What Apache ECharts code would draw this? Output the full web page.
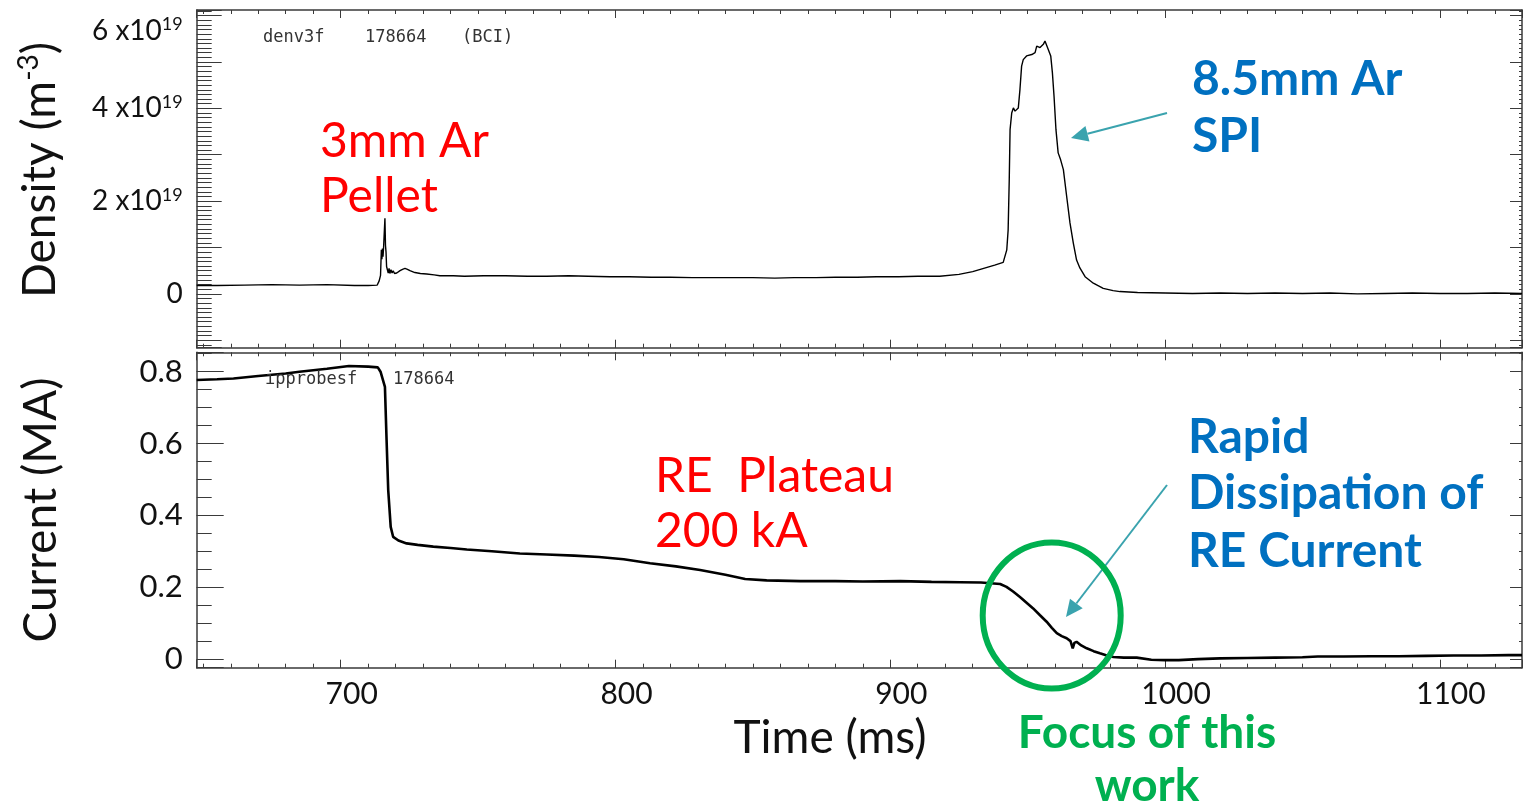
<!DOCTYPE html>
<html>
<head>
<meta charset="utf-8">
<script src="https://cdn.jsdelivr.net/npm/echarts@6/dist/echarts.min.js"></script>
<style>
  html, body { margin: 0; padding: 0; background: #fff; }
  #chart { width: 1524px; height: 802px; }
</style>
</head>
<body>
<div id="chart"></div>
<script>
// density trace, time in ms, value in 1e19 m^-3
const densTime = [647.6, 655, 665, 675, 685, 695, 705, 710, 713.3, 714.0, 714.5, 714.8, 715.0, 715.2, 715.4, 715.6, 715.9, 716.1, 716.3, 716.5, 716.7, 717.0, 717.3, 717.6, 717.9, 718.3, 718.7, 719.1, 719.6, 720.4, 721.6, 722.5, 723.4, 724.3, 725.2, 727, 729, 731.3, 734, 736.1, 741, 745, 752, 760, 768, 775, 783, 790, 798, 805, 813, 820, 828, 835, 843, 850, 858, 865, 873, 880, 888, 895, 903, 910, 918, 925, 930, 934, 938, 941.1, 942.4, 942.9, 943.3, 943.6, 944.2, 944.8, 945.4, 946.6, 947.2, 947.8, 948.4, 949.6, 951.5, 952.7, 953.3, 954.5, 955.7, 956.3, 957.5, 958.4, 959.0, 959.6, 960.3, 961.1, 962.0, 963.0, 964.2, 965.4, 966.6, 967.8, 969.0, 970.9, 973.9, 977.5, 981.1, 983.6, 990, 1000, 1010, 1020, 1030, 1040, 1050, 1060, 1070, 1080, 1090, 1100, 1110, 1120, 1129.9]
const densValue = [0.18, 0.18, 0.19, 0.2, 0.19, 0.2, 0.18, 0.18, 0.19, 0.28, 0.4, 0.95, 0.75, 0.98, 0.8, 0.99, 1.0, 1.63, 1.05, 0.9, 0.59, 0.62, 0.45, 0.55, 0.44, 0.52, 0.45, 0.5, 0.44, 0.45, 0.5, 0.53, 0.55, 0.53, 0.5, 0.46, 0.44, 0.43, 0.41, 0.39, 0.39, 0.38, 0.39, 0.39, 0.38, 0.38, 0.39, 0.38, 0.37, 0.37, 0.36, 0.36, 0.35, 0.35, 0.35, 0.35, 0.34, 0.35, 0.35, 0.36, 0.36, 0.37, 0.37, 0.38, 0.38, 0.42, 0.48, 0.55, 0.62, 0.68, 0.95, 1.38, 2.46, 3.54, 3.9, 4.01, 3.94, 4.01, 4.41, 4.91, 5.05, 5.13, 5.16, 5.2, 5.34, 5.31, 5.38, 5.45, 5.27, 5.13, 4.77, 4.26, 3.54, 3.04, 2.89, 2.68, 2.1, 1.53, 1.1, 0.73, 0.56, 0.37, 0.23, 0.12, 0.07, 0.05, 0.03, 0.02, 0.01, 0.02, 0.01, 0.02, 0.01, 0.02, 0.0, 0.01, 0.02, 0.01, 0.01, 0.02, 0.01]

// plasma current trace, time in ms, value in MA
const currTime = [647.6, 655, 661, 670, 680, 685, 695, 703, 710, 713.5, 714.5, 716.1, 716.7, 717.3, 718.2, 719.1, 721, 724, 728, 733.7, 740, 745.9, 755, 765.2, 775, 785, 794, 803, 812.6, 822, 830.8, 840, 847.2, 855, 867.3, 880, 890, 903.7, 915, 925.4, 933, 940, 942.3, 944.7, 947.2, 949.6, 952, 954.5, 956.9, 958.8, 960.6, 962.4, 964.2, 965.6, 966.4, 967.0, 967.8, 969.5, 971.5, 974, 976.3, 978.8, 981.2, 985, 989.7, 995, 1000, 1005, 1012, 1020, 1030, 1040, 1050, 1055.6, 1065, 1075, 1085, 1095, 1105, 1115, 1125, 1129.9]
const currValue = [0.777, 0.779, 0.781, 0.788, 0.795, 0.8, 0.808, 0.816, 0.814, 0.812, 0.8, 0.758, 0.61, 0.47, 0.368, 0.34, 0.33, 0.322, 0.318, 0.313, 0.309, 0.305, 0.3, 0.294, 0.291, 0.288, 0.284, 0.278, 0.267, 0.258, 0.248, 0.235, 0.223, 0.219, 0.217, 0.217, 0.216, 0.217, 0.215, 0.214, 0.213, 0.209, 0.201, 0.188, 0.173, 0.157, 0.141, 0.122, 0.104, 0.087, 0.072, 0.064, 0.058, 0.05, 0.03, 0.045, 0.048, 0.038, 0.03, 0.022, 0.016, 0.01, 0.006, 0.004, 0.004, -0.002, -0.003, -0.003, 0.0, 0.002, 0.003, 0.004, 0.005, 0.007, 0.007, 0.008, 0.008, 0.009, 0.01, 0.01, 0.011, 0.011]

const xTickLabels = [700, 800, 900, 1000, 1100]
const densTickLabels = [0, 2, 4, 6]
const currTickLabels = ['0', '0.2', '0.4', '0.6', '0.8']

const X_MIN = 647.6, X_MAX = 1129.9
const D_MIN = -1.16, D_MAX = 6.12
const C_MIN = -0.024, C_MAX = 0.854

const FONT = 'Lato'
const AX = '#3a3a3a'

function xAx(grid, pos, major, withLabels) {
  return {
    type: 'value', gridIndex: grid, position: pos, min: X_MIN, max: X_MAX,
    splitNumber: major ? 5 : 48,
    axisLine: { show: major, onZero: false, lineStyle: { color: AX, width: 1.5 } },
    axisTick: { show: true, inside: true, length: major ? 8 : 4, lineStyle: { color: AX, width: 1 } },
    axisLabel: {
      show: !!withLabels, margin: 12, fontFamily: FONT, fontSize: 30, color: '#111',
      padding: [0, 0, 0, 22],
      formatter: v => xTickLabels.includes(v) ? String(v) : '',
    },
    splitLine: { show: false },
  }
}

function yAx(grid, pos, min, max, split, len, line, label) {
  return {
    type: 'value', gridIndex: grid, position: pos, min: min, max: max, splitNumber: split,
    axisLine: { show: line, onZero: false, lineStyle: { color: AX, width: 1.5 } },
    axisTick: { show: true, inside: true, length: len, lineStyle: { color: AX, width: 1 } },
    axisLabel: label || { show: false },
    splitLine: { show: false },
  }
}

const densLabel = {
  show: true, margin: 14, fontFamily: FONT, color: '#111',
  formatter: v => {
    const k = densTickLabels.find(d => Math.abs(d - v) < 1e-6)
    if (k === undefined) return ''
    if (k === 0) return '{b|0}'
    // top label sits a bit lower, below the frame edge
    if (k === 6) return `{e| }\n{b|${k} x10}{s|19}`
    return `{b|${k} x10}{s|19}`
  },
  rich: {
    e: { fontFamily: FONT, fontSize: 12, lineHeight: 30 },
    b: { fontFamily: FONT, fontSize: 28, color: '#111', lineHeight: 30 },
    s: { fontFamily: FONT, fontSize: 18, color: '#111', lineHeight: 30, verticalAlign: 'top' },
  },
}

const currLabel = {
  show: true, margin: 14, fontFamily: FONT, fontSize: 31, color: '#111',
  formatter: v => {
    const s = String(Math.round(v * 100) / 100)
    return currTickLabels.includes(s) && Math.abs(Math.round(v * 100) / 100 - v) < 1e-6 ? s : ''
  },
}

function arrow(x1, y1, x2, y2, color) {
  const dx = x2 - x1, dy = y2 - y1
  const L = Math.sqrt(dx * dx + dy * dy)
  const ux = dx / L, uy = dy / L
  const hl = 17, hw = 8
  const bx = x2 - ux * hl, by = y2 - uy * hl
  return [
    { type: 'line', z: 50, shape: { x1, y1, x2: bx, y2: by }, style: { stroke: color, lineWidth: 2 } },
    { type: 'polygon', z: 50, shape: { points: [[x2, y2], [bx - uy * hw, by + ux * hw], [bx + uy * hw, by - ux * hw]] }, style: { fill: color } },
  ]
}

function txt(text, x, y, color, size, weight, align) {
  return {
    type: 'text', z: 50, x, y,
    style: { text, fill: color, fontFamily: FONT, fontSize: size, fontWeight: weight || 'normal', align: align || 'left', verticalAlign: 'middle' },
  }
}

function mono(text, x, y) {
  return {
    type: 'text', z: 50, x, y,
    style: { text, fill: '#333', fontFamily: 'DejaVu Sans Mono', fontSize: 17, align: 'left', verticalAlign: 'middle' },
  }
}

const RED = '#ff0000', BLUE = '#0070c0', GREEN = '#00b050', TEAL = '#3aa3ae'

const chart = echarts.init(document.getElementById('chart'), null, { renderer: 'canvas' })

chart.setOption({
  animation: false,
  backgroundColor: '#ffffff',
  grid: [
    { left: 196.7, top: 10, width: 1325.3, height: 337.7, containLabel: false, outerBoundsMode: 'none' },
    { left: 196.7, top: 352.3, width: 1325.3, height: 315.4, containLabel: false, outerBoundsMode: 'none' },
  ],
  xAxis: [
    xAx(0, 'bottom', true), xAx(0, 'bottom', false), xAx(0, 'top', true), xAx(0, 'top', false),
    xAx(1, 'bottom', true, true), xAx(1, 'bottom', false), xAx(1, 'top', true), xAx(1, 'top', false),
  ],
  yAxis: [
    yAx(0, 'left', D_MIN, D_MAX, 7, 25, true, densLabel),
    yAx(0, 'left', D_MIN, D_MAX, 73, 15, false),
    yAx(0, 'right', D_MIN, D_MAX, 7, 12, true),
    yAx(0, 'right', D_MIN, D_MAX, 73, 3, false),
    yAx(1, 'left', C_MIN, C_MAX, 4, 27, true, currLabel),
    yAx(1, 'left', C_MIN, C_MAX, 17, 15, false),
    yAx(1, 'right', C_MIN, C_MAX, 4, 12, true),
    yAx(1, 'right', C_MIN, C_MAX, 17, 3, false),
  ],
  series: [
    {
      type: 'line', xAxisIndex: 0, yAxisIndex: 0, showSymbol: false, clip: true,
      lineStyle: { color: '#000', width: 1.4 },
      data: densTime.map((t, i) => [t, densValue[i]]),
    },
    {
      type: 'line', xAxisIndex: 4, yAxisIndex: 4, showSymbol: false, clip: true,
      lineStyle: { color: '#000', width: 2.6 },
      data: currTime.map((t, i) => [t, currValue[i]]),
    },
  ],
  graphic: [
    {
      type: 'text', z: 50, x: 40, y: 170, rotation: Math.PI / 2,
      style: {
        text: '{a|Density (m}{s|-3}{a|)}', align: 'center', verticalAlign: 'middle',
        rich: {
          a: { fontFamily: FONT, fontSize: 46, fill: '#111', lineHeight: 50 },
          s: { fontFamily: FONT, fontSize: 28, fill: '#111', lineHeight: 50, verticalAlign: 'top' },
        },
      },
    },
    {
      type: 'text', z: 50, x: 41, y: 510, rotation: Math.PI / 2,
      style: { text: 'Current (MA)', fill: '#111', fontFamily: FONT, fontSize: 46, align: 'center', verticalAlign: 'middle' },
    },
    txt('Time (ms)', 830, 738, '#111', 46, 'normal', 'center'),
    mono('denv3f', 263, 38), mono('178664', 365, 38), mono('(BCI)', 462, 38),
    mono('ipprobesf', 265, 380), mono('178664', 393, 380),
    txt('3mm Ar', 320, 142, RED, 48), txt('Pellet', 320, 197, RED, 48),
    txt('RE  Plateau', 655, 477, RED, 48), txt('200 kA', 655, 532, RED, 48),
    txt('8.5mm Ar', 1192, 80, BLUE, 48, 'bold'), txt('SPI', 1192, 137, BLUE, 48, 'bold'),
    txt('Rapid', 1188, 438, BLUE, 48, 'bold'), txt('Dissipation of', 1188, 494, BLUE, 48, 'bold'),
    txt('RE Current', 1188, 552, BLUE, 48, 'bold'),
    txt('Focus of this', 1147, 733, GREEN, 46, 'bold', 'center'), txt('work', 1147, 786, GREEN, 46, 'bold', 'center'),
    ...arrow(1167, 113, 1071, 138, TEAL),
    ...arrow(1167, 485, 1066, 617, TEAL),
    {
      type: 'ellipse', z: 60, shape: { cx: 1051.7, cy: 615.5, rx: 69, ry: 73 },
      style: { fill: 'none', stroke: GREEN, lineWidth: 6 },
    },
  ],
})
</script>
</body>
</html>
